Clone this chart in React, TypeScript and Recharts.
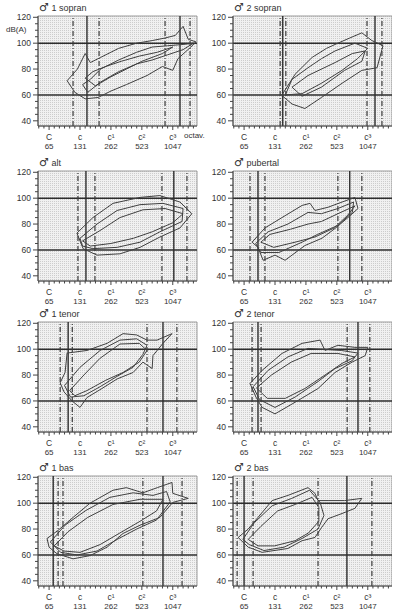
import React from 'react';
import { ScatterChart, Scatter, XAxis, YAxis, ReferenceLine, ReferenceArea } from 'recharts';

type Pt = [number, number]; // [semitones above C (65 Hz), dB(A)]

const noteSemitones = [0, 12, 24, 36, 48];
const noteNames = ['C', 'c', 'c¹', 'c²', 'c³'];
const noteHz = ['65', '131', '262', '523', '1047'];
const dbTicks = [40, 45, 50, 55, 60, 65, 70, 75, 80, 85, 90, 95, 100, 105, 110, 115, 120];
const dbLabels = [40, 60, 80, 100, 120];
const semitoneTicks = [-4, -2, 0, 2, 4, 6, 8, 10, 12, 14, 16, 18, 20, 22, 24, 26, 28, 30, 32, 34, 36, 38, 40, 42, 44, 46, 48, 50, 52, 54, 56];
const dbGuides = [60, 100];

const titles = ['1 sopran', '2 sopran', 'alt', 'pubertal', '1 tenor', '2 tenor', '1 bas', '2 bas'];

// solid / dashed vertical range marks, semitones
const solidMarks = [
  [14.7, 50.8],
  [15, 50.8],
  [14.3, 48.4],
  [5.4, 41],
  [7.4, 44.2],
  [5.4, 44.2],
  [1.6, 44.2],
  [0, 39.9],
];
const dashedMarks = [
  [9.3, 19.4, 45, 54.7],
  [14, 16.2, 47.7, 53.5],
  [11.2, 17.8, 43.8, 53.5],
  [2.3, 8.1, 36.4, 45.7],
  [4.3, 9, 38, 49.6],
  [3.1, 6.6, 40, 48.8],
  [3.5, 5.4, 36.4, 51.6],
  [-2.7, 3.5, 28.7, 49.6],
];

const sopran1: Pt[][] = [
  [[7, 71], [11, 80], [14, 92], [16, 85], [20, 89], [27, 96], [34, 100], [40, 102], [45, 104], [49, 106], [52, 113], [54, 103], [57, 101], [55, 97], [50, 88], [48, 79], [44, 82], [38, 75], [30, 68], [24, 63], [19, 58], [14, 57], [10, 62]],
  [[13, 68], [16, 72], [20, 80], [27, 87], [34, 93], [40, 97], [46, 98], [52, 99], [56, 100], [52, 95], [46, 91], [40, 87], [34, 84], [27, 78], [20, 70], [15, 62]],
  [[14, 73], [17, 78], [22, 82], [28, 86], [35, 90], [42, 93], [48, 97], [44, 92], [36, 86], [30, 80], [24, 74], [18, 67]],
];
const sopran2: Pt[][] = [
  [[14.7, 60], [19.8, 76], [26.4, 89], [32, 96], [36.4, 100], [41, 104], [45.7, 108], [49.6, 102], [53.9, 98], [51.6, 81], [45.7, 79], [38, 69], [30, 58], [23.6, 49.5], [18.6, 53], [15, 59]],
  [[18.6, 72], [24.8, 81], [30, 88], [35.3, 94], [43, 100], [48, 96], [44, 88], [38, 79], [30, 69], [22.5, 61], [16, 60]],
  [[18.6, 66], [24.8, 75], [35.3, 85], [42, 92], [47, 94], [45.7, 86], [39, 79], [30, 66], [22.5, 59]],
];
const alt: Pt[][] = [
  [[10.8, 73], [17, 85], [24.8, 96], [35.3, 100.6], [43, 102], [50.8, 97], [55.4, 88], [50.8, 77], [43, 70], [35.3, 62], [27.5, 57], [18.6, 56], [13.2, 61]],
  [[12, 69], [18.6, 80], [26.4, 90.5], [35.3, 95], [44.2, 96], [52, 92], [51.6, 82], [43, 74], [35.3, 66], [26.4, 62], [17, 61], [13, 63]],
  [[13, 67], [19.8, 75], [27.5, 85], [36.4, 91], [45, 92], [52, 88], [48, 81], [40, 74], [32.7, 69], [24, 65], [16, 63]],
];
const pubertal: Pt[][] = [
  [[3.1, 66], [8.1, 77], [14.7, 85], [22.5, 94.4], [25.6, 96], [27.5, 90.5], [32.6, 93], [38, 97], [43, 100.6], [44.2, 92], [40.3, 85], [35.3, 76.6], [30.2, 69], [23.6, 63.4], [15.9, 52], [12, 56], [7.4, 52], [5.4, 62]],
  [[4.5, 65], [9.3, 74], [17, 80], [24.8, 89], [30, 88], [36.4, 92], [42.5, 97], [42, 89], [36.4, 79], [28.5, 72], [22.5, 66], [13.5, 58], [6.5, 58]],
  [[6.5, 66], [10, 72], [18, 76], [24.8, 80], [30, 82], [36.4, 88], [43, 94], [40.3, 87], [35, 77], [27.5, 70], [19.8, 66], [11.5, 62]],
];
const tenor1: Pt[][] = [
  [[4.3, 74], [6.2, 82], [7, 97], [14.7, 99], [22.5, 104.5], [28.7, 112], [34, 111], [38, 107], [41.9, 107], [47.7, 112], [44.2, 104.5], [40.3, 95], [40, 85], [36.4, 90], [32.6, 82], [26.4, 77], [20.5, 69.6], [14.7, 62.6], [12, 55], [8.9, 60], [5.8, 67]],
  [[6, 72], [12, 86], [19.8, 99], [27.5, 107], [34, 108], [38, 103], [36.4, 96], [32.6, 86], [26.4, 79], [19.8, 71], [13.5, 64], [8.3, 63]],
  [[8, 68], [13.5, 80], [19.8, 93], [27.5, 104], [35, 104.5], [38, 99], [35, 90], [28.7, 82], [22, 76], [14.7, 68], [10, 64]],
];
const tenor2: Pt[][] = [
  [[2.3, 73.5], [7, 83.6], [14.7, 96.7], [22.5, 104.5], [29.5, 107], [31.4, 99], [36.4, 103], [43, 101.4], [48, 101.4], [47, 95], [41.9, 90], [35.3, 82], [28.7, 69.6], [19.8, 59], [12, 50], [7, 55], [4.6, 63]],
  [[3.5, 71], [9.3, 83.6], [17, 94], [24.8, 100.6], [37.7, 99], [44.2, 97], [41.9, 91], [35.3, 85], [28.7, 75], [19.8, 63], [12, 55], [6, 61]],
  [[4.8, 70], [10.6, 80], [18.3, 90], [26, 96.7], [36.4, 96.7], [43, 94], [38, 89], [31.4, 80], [23.6, 69.6], [16, 62], [9, 62]],
];
const bas1: Pt[][] = [
  [[-0.8, 72.7], [3.5, 79], [9.3, 89], [15.9, 100], [24.8, 110], [30, 112], [36.4, 108], [42, 112], [47.7, 116], [48, 107.6], [54, 103.7], [48, 100.6], [43, 89], [35.3, 83], [28.7, 76.6], [22.5, 66], [15.9, 59.5], [9.3, 57], [3, 61], [0, 66]],
  [[0.5, 70], [6.2, 83], [14.3, 94.4], [23.6, 104.5], [32.6, 108], [40.3, 106], [45.6, 109], [47, 101], [41.7, 87], [34, 80], [26.4, 72], [18.6, 63], [10.9, 60], [4.5, 62]],
  [[2, 67], [7.4, 78], [15, 89], [24.8, 99], [35.3, 103], [44.2, 103], [41.7, 94], [35.3, 86], [27.5, 77], [19.8, 68], [12, 62], [5.8, 63]],
];
const bas2: Pt[][] = [
  [[-2.3, 73.5], [1.6, 80], [5.4, 89], [10.9, 102], [17, 106], [24.8, 112], [27.5, 107.6], [28.7, 102], [32.6, 102], [39, 102], [45.7, 103.7], [43, 96], [38, 92], [32.6, 88], [30, 81], [27.5, 73.5], [22.5, 71], [17, 65], [7, 62], [1.6, 66]],
  [[-0.5, 72], [4, 85], [10.9, 98], [18.5, 103.7], [25.4, 110], [29.5, 100.6], [31, 90.5], [28.7, 80], [22.5, 72.7], [15.5, 66], [7.7, 63.4], [2, 68]],
  [[1.6, 72], [6.5, 82], [13, 94], [19.8, 99], [26.4, 104.5], [29, 96.7], [29, 86], [25, 77], [19.8, 71], [11.8, 67], [5.4, 67]],
];

const profiles = [sopran1, sopran2, alt, pubertal, tenor1, tenor2, bas1, bas2];

const X_MIN = -4.3;
const X_MAX = 57.4;
const Y_MIN = 36;
const Y_MAX = 121;
const rowTops = [0, 155, 306, 460];
const FONT = '"Liberation Sans", Arial, sans-serif';
const INK = '#333';

const XTick = (props: any) => {
  const { x, y, payload } = props;
  const i = noteSemitones.indexOf(payload.value);
  const major = i >= 0;
  return (
    <g>
      <line x1={x} x2={x} y1={y} y2={y + (major ? 4 : 2.5)} stroke="#444" strokeWidth={1} />
      {major && (
        <>
          <text x={x} y={y + 14} textAnchor="middle" fontSize={8.5} fontFamily={FONT} fill={INK}>{noteNames[i]}</text>
          <text x={x} y={y + 22.5} textAnchor="middle" fontSize={8} fontFamily={FONT} fill={INK}>{noteHz[i]}</text>
        </>
      )}
    </g>
  );
};

const YTick = (props: any) => {
  const { x, y, payload } = props;
  const major = dbLabels.includes(payload.value);
  return (
    <g>
      <line x1={x - (major ? 5 : 3)} x2={x} y1={y} y2={y} stroke="#444" strokeWidth={1} />
      {major && (
        <text x={x - 7} y={y + 3} textAnchor="end" fontSize={8.5} fontFamily={FONT} fill={INK}>{payload.value}</text>
      )}
    </g>
  );
};

function Panel({ index }: { index: number }) {
  const col = index % 2;
  const row = Math.floor(index / 2);
  const left = col === 0 ? 0 : 195;
  const top = rowTops[row];
  const width = col === 0 ? 210 : 197;
  const pid = `stip${index}`;
  return (
    <div style={{ position: 'absolute', left, top }}>
      <ScatterChart width={width} height={152} margin={{ top: 16, right: width - 197, bottom: 0, left: 0 }}>
        <defs>
          <pattern id={pid} width={2} height={2} patternUnits="userSpaceOnUse">
            <rect width={2} height={2} fill="#f1f1f1" />
            <rect width={1} height={1} fill="#cdcdcd" />
          </pattern>
        </defs>
        <XAxis type="number" dataKey="x" domain={[X_MIN, X_MAX]} ticks={semitoneTicks} allowDataOverflow
          height={26} tickSize={0} tickMargin={0} tickLine={false} tick={<XTick />} axisLine={{ stroke: '#444' }} interval={0} />
        <YAxis type="number" dataKey="y" domain={[Y_MIN, Y_MAX]} ticks={dbTicks} allowDataOverflow
          width={38} tickSize={0} tickMargin={0} tickLine={false} tick={<YTick />} axisLine={{ stroke: '#444' }} interval={0} />
        <ReferenceArea x1={X_MIN} x2={X_MAX} y1={Y_MIN} y2={Y_MAX} fill={`url(#${pid})`} fillOpacity={1} stroke="#9a9a9a" strokeWidth={1} />
        {dbGuides.map((v) => (
          <ReferenceLine key={`h${v}`} y={v} stroke="#2e2e2e" strokeWidth={1.6} />
        ))}
        {dashedMarks[index].map((v) => (
          <ReferenceLine key={`d${v}`} x={v} stroke="#3a3a3a" strokeWidth={1.2} strokeDasharray="5 2 1 2" />
        ))}
        {solidMarks[index].map((v) => (
          <ReferenceLine key={`s${v}`} x={v} stroke="#2e2e2e" strokeWidth={1.4} />
        ))}
        {profiles[index].map((loop, k) => (
          <Scatter
            key={k}
            data={[...loop, loop[0]].map(([x, y]) => ({ x, y }))}
            line={{ stroke: '#404040', strokeWidth: 1 }}
            shape={() => <g />}
            isAnimationActive={false}
          />
        ))}
      </ScatterChart>
      <div style={{ position: 'absolute', left: 39, top: 1, fontSize: 9, lineHeight: '13px', color: INK, fontFamily: FONT, whiteSpace: 'nowrap' }}>
        <span style={{ fontFamily: '"DejaVu Sans", sans-serif', fontSize: 11 }}>♂</span> {titles[index]}
      </div>
      {index === 0 && (
        <>
          <div style={{ position: 'absolute', left: 6, top: 25, fontSize: 8, lineHeight: '10px', color: INK, fontFamily: FONT }}>dB(A)</div>
          <div style={{ position: 'absolute', left: 184, top: 131, fontSize: 8, lineHeight: '10px', color: INK, fontFamily: FONT }}>octav.</div>
        </>
      )}
    </div>
  );
}

export default function App() {
  return (
    <div style={{ position: 'absolute', left: 0, top: 0, width: 393, height: 610, background: '#fff', overflow: 'hidden' }}>
      {titles.map((_, i) => (
        <Panel key={i} index={i} />
      ))}
    </div>
  );
}
